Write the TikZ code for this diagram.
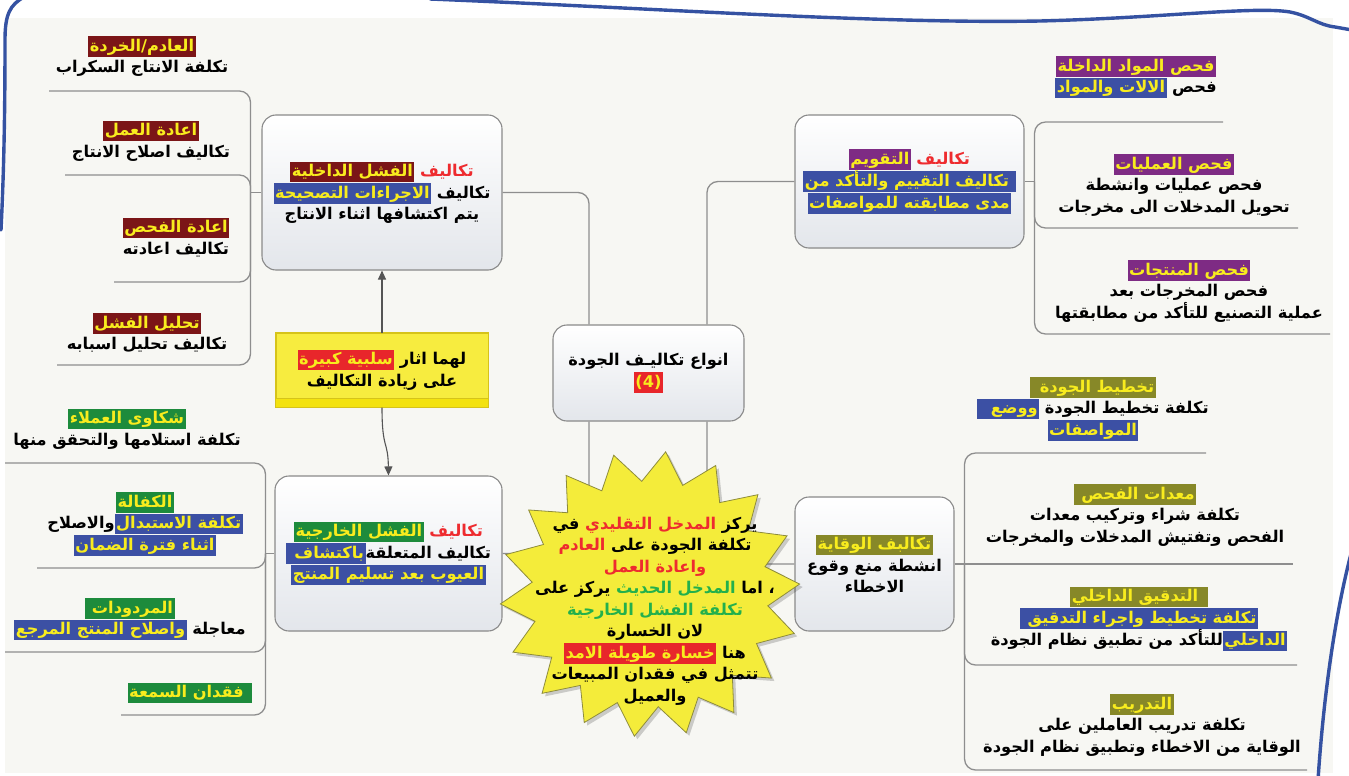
\documentclass[tikz,border=0pt]{standalone}
\usepackage{fontspec}
\usetikzlibrary{arrows.meta}
\TeXXeTstate=1
\newfontfamily\arfont[Script=Arabic]{DejaVu Sans}

\definecolor{bgc}{HTML}{F7F7F3}
\definecolor{framec}{HTML}{3552A2}
\definecolor{connc}{HTML}{8E8E8E}
\definecolor{boxline}{HTML}{8A8A8A}
\definecolor{boxbot}{HTML}{E3E6EB}
\definecolor{arrc}{HTML}{555555}
\definecolor{tred}{HTML}{EE2B2F}
\definecolor{tgreen}{HTML}{23B04C}
\definecolor{hyel}{HTML}{F8EC1E}
\definecolor{hdred}{HTML}{7B1517}
\definecolor{hblue}{HTML}{3C50A4}
\definecolor{hgreen}{HTML}{1D8B3C}
\definecolor{hpurple}{HTML}{7E2B84}
\definecolor{holive}{HTML}{878828}
\definecolor{hred}{HTML}{E8262B}
\definecolor{staryel}{HTML}{F4EC3A}
\definecolor{starline}{HTML}{8E8C3C}
\definecolor{notey}{HTML}{F7EC3F}
\definecolor{noteband}{HTML}{F3E20F}
\definecolor{noteline}{HTML}{D6C31A}

% Each line is assembled from left to right out of right-to-left runs,
% so that every colour change stays outside the reversed runs.
\newcommand\CR[2]{\hbox{\begingroup\color{#1}#2\endgroup}}
\newcommand\HL[2]{\hbox{\begingroup\setlength\fboxsep{0pt}\colorbox{#1}{\rule[-5.5pt]{0pt}{20.5pt}\kern1.5pt\begingroup\color{hyel}#2\endgroup\kern1.5pt}\endgroup}}

\begin{document}
\begin{tikzpicture}[x=1pt,y=-1pt,
  txt/.style={font=\arfont\bfseries\fontsize{16.2}{21.5}\selectfont, align=center, inner sep=0pt, text=black},
  box/.style={txt, draw=boxline, line width=1.1pt, rounded corners=14pt, top color=white, bottom color=boxbot},
  conn/.style={draw=connc, line width=1.3pt, rounded corners=11pt},
  arr/.style={draw=arrc, line width=1.1pt, -{Triangle[length=9pt,width=8pt]}},
  starst/.style={fill=staryel, draw=starline, line width=.8pt}]
\useasboundingbox (0,0) rectangle (1349,776);

% page and sheet
\fill[white] (0,0) rectangle (1349,776);
\fill[bgc] (5,18) rectangle (1333,773);

% hand drawn blue frame
\draw[framec, line width=3.4pt, line cap=round] (24,-3) .. controls (10,5) and (5,14) .. (5,40) .. controls (5,110) and (4,170) .. (1,230);
\draw[framec, line width=3.4pt, line cap=round] (430,-1) .. controls (650,8) and (880,24) .. (1040,21) .. controls (1160,18) and (1255,6) .. (1290,12) .. controls (1310,16) and (1318,25) .. (1335,27) -- (1352,30);
\draw[framec, line width=3.4pt, line cap=round] (1352,550) .. controls (1336,610) and (1324,690) .. (1318,780);

% main boxes
\node[box, minimum width=191pt, minimum height=96pt] (cb) at (648.5,373)
  {\beginR انواع تكاليـف الجودة\endR\\ \HL{hred}{(4)}};
\node[box, minimum width=240pt, minimum height=155pt] (ib) at (382,192.5)
  {\HL{hdred}{\beginR الفشل الداخلية\endR} \CR{tred}{\beginR تكاليف\endR}\\
   \HL{hblue}{\beginR الاجراءات التصحيحة\endR} \beginR تكاليف\endR\\
   \beginR يتم اكتشافها اثناء الانتاج\endR};
\node[box, minimum width=227pt, minimum height=155pt] (eb) at (388.5,553.5)
  {\HL{hgreen}{\beginR الفشل الخارجية\endR} \CR{tred}{\beginR تكاليف\endR}\\
   \HL{hblue}{\beginR باكتشاف\kern7pt\endR}\beginR تكاليف المتعلقة\endR\\
   \HL{hblue}{\beginR العيوب بعد تسليم المنتج\endR}};
\node[box, minimum width=229pt, minimum height=133pt] (ab) at (909.5,181.5)
  {\HL{hpurple}{\beginR التقويم\endR} \CR{tred}{\beginR تكاليف\endR}\\
   \HL{hblue}{\beginR\kern5pt تكاليف التقييم والتأكد من\endR}\\
   \HL{hblue}{\beginR مدى مطابقته  للمواصفات\endR}};
\node[box, minimum width=159pt, minimum height=134pt] (pb) at (874.5,564)
  {\HL{holive}{\beginR تكالبف الوقاية\endR}\\
   \beginR انشطة منع وقوع\endR\\
   \beginR الاخطاء\endR};

% branches of the internal failure costs
\node[txt] (i1) at (142,56.5) {\HL{hdred}{\beginR العادم/الخردة\endR}\\ \beginR تكلفة الانتاج السكراب\endR};
\node[txt] (i2) at (151,141) {\HL{hdred}{\beginR اعادة العمل\endR}\\ \beginR تكاليف اصلاح الانتاج\endR};
\node[txt] (i3) at (176,237.5) {\HL{hdred}{\beginR اعادة الفحص\endR}\\ \beginR تكاليف اعادته\endR};
\node[txt] (i4) at (147,333) {\HL{hdred}{\beginR تحليل الفشل\endR}\\ \beginR تكاليف تحليل اسبابه\endR};
\coordinate (i1u) at (49,91);
\coordinate (i2u) at (65,175);
\coordinate (i3u) at (114,282);
\coordinate (i4u) at (57,365);
\draw[conn] (ib.west) -- ([xshift=-11pt]ib.west);
\foreach \c in {i1u,i2u,i3u,i4u} \draw[conn] ([xshift=-11pt]ib.west) |- (\c);

% branches of the external failure costs
\node[txt] (e1) at (127,429) {\HL{hgreen}{\beginR شكاوى العملاء\endR}\\ \beginR تكلفة استلامها والتحقق منها\endR};
\node[txt] (e2) at (145,524) {\HL{hgreen}{\beginR الكفالة\endR}\\
   \beginR والاصلاح\endR\HL{hblue}{\beginR تكلفة الاستبدال\endR}\\
   \HL{hblue}{\beginR اثناء فترة الضمان\endR}};
\node[txt] (e3) at (130,619) {\HL{hgreen}{\beginR المردودات\kern5pt\endR}\\
   \HL{hblue}{\beginR واصلاح المنتج المرجع\endR} \beginR معاجلة\endR};
\node[txt] (e4) at (190,693) {\HL{hgreen}{\beginR\kern7pt فقدان السمعة\endR}};
\coordinate (e1u) at (5,463);
\coordinate (e2u) at (37,568);
\coordinate (e3u) at (5,652);
\coordinate (e4u) at (121,715);
\draw[conn] (eb.west) -- ([xshift=-9pt]eb.west);
\foreach \c in {e1u,e2u,e3u,e4u} \draw[conn] ([xshift=-9pt]eb.west) |- (\c);

% branches of the appraisal costs
\node[txt] (a1) at (1136,77) {\HL{hpurple}{\beginR فحص المواد الداخلة\endR}\\
   \HL{hblue}{\beginR الالات والمواد\endR} \beginR فحص\endR};
\node[txt] (a2) at (1174,185) {\HL{hpurple}{\beginR فحص العمليات\endR}\\
   \beginR فحص عمليات وانشطة\endR\\
   \beginR تحويل المدخلات الى مخرجات\endR};
\node[txt] (a3) at (1189,291) {\HL{hpurple}{\beginR فحص المنتجات\endR}\\
   \beginR فحص المخرجات بعد\endR\\
   \beginR عملية التصنيع للتأكد من مطابقتها\endR};
\coordinate (a1u) at (1223,122);
\coordinate (a2u) at (1298,228);
\coordinate (a3u) at (1330,334);
\draw[conn] (ab.east) -- ([xshift=10pt]ab.east);
\foreach \c in {a1u,a2u,a3u} \draw[conn] ([xshift=10pt]ab.east) |- (\c);

% branches of the prevention costs
\node[txt] (p1) at (1093,409) {\HL{holive}{\beginR تخطيط الجودة\kern8pt\endR}\\
   \HL{hblue}{\beginR ووضع\kern12pt\endR} \beginR تكلفة تخطيط الجودة\endR\\
   \HL{hblue}{\beginR المواصفات\endR}};
\node[txt] (p2) at (1135,515) {\HL{holive}{\beginR معدات الفحص\kern6pt\endR}\\
   \beginR تكلفة شراء وتركيب معدات\endR\\
   \beginR الفحص وتفتيش المدخلات والمخرجات\endR};
\node[txt] (p3) at (1139,619) {\HL{holive}{\beginR\kern8pt التدقيق الداخلي\endR}\\
   \HL{hblue}{\beginR تكلفة تخطيط واجراء التدقيق\kern6pt\endR}\\
   \beginR للتأكد من تطبيق نظام الجودة\endR\HL{hblue}{\beginR الداخلي\endR}};
\node[txt] (p4) at (1142,725) {\HL{holive}{\beginR التدريب\endR}\\
   \beginR تكلفة تدريب العاملين على\endR\\
   \beginR الوقاية من الاخطاء وتطبيق نظام الجودة\endR};
\coordinate (p1u) at (1206,453);
\coordinate (p2u) at (1293,564);
\coordinate (p3u) at (1297,665);
\coordinate (p4u) at (1307,770);
\draw[conn] (pb.east) -- (p2u);
\foreach \c in {p1u,p3u,p4u} \draw[conn] ([xshift=10pt]pb.east) |- (\c);

% links from the central topic
\draw[conn] ([xshift=-59.5pt]cb.north) |- (ib.east);
\draw[conn] ([xshift=58.5pt]cb.north) |- (ab.west);
\draw[conn] ([xshift=-59.5pt]cb.south) |- (eb.east);
\draw[conn] ([xshift=58.5pt]cb.south) |- (pb.west);

% yellow note with its two arrows
\node[txt, fill=notey, draw=noteline, line width=1pt, minimum width=212pt, minimum height=74pt] (note) at (382,370)
  {\HL{hred}{\beginR سلبية كبيرة\endR} \beginR لهما اثار\endR\\ \beginR على زيادة التكاليف\endR};
\fill[noteband] ([xshift=.5pt,yshift=.5pt]note.south west) rectangle ([xshift=-.5pt,yshift=9pt]note.south east);
\draw[noteline, line width=.8pt] ([yshift=9pt]note.south west) -- ([yshift=9pt]note.south east);
\draw[noteline, line width=1pt] (note.south west) rectangle (note.north east);
\draw[arr] (note.north) -- (ib.south);
\draw[arr] (note.south) .. controls (382,450) and (388,440) .. (eb.north);

% starburst
\draw[starst, preaction={fill=black, opacity=.18, transform canvas={shift={(3pt,-3pt)}}}]
  ({650+150*cos(16)},{594+143*sin(16)})
  \foreach \k in {1,...,35} { -- ({650+150*(1-0.21*mod(\k,2))*cos(16+10*\k)},{594+143*(1-0.21*mod(\k,2))*sin(16+10*\k)}) } -- cycle;
\node[txt] (st) at (655,611)
  {\beginR في\endR{} \CR{tred}{\beginR المدخل التقليدي\endR} \beginR يركز\endR\\
   \CR{tred}{\beginR العادم\endR} \beginR تكلفة الجودة على\endR\\
   \CR{tred}{\beginR واعادة العمل\endR}\\
   \beginR يركز على\endR{} \CR{tgreen}{\beginR المدخل الحديث\endR} \beginR ، اما\endR\\
   \CR{tgreen}{\beginR تكلفة  الفشل الخارجية\endR}\\
   \beginR لان الخسارة\endR\\
   \HL{hred}{\beginR خسارة طويلة الامد\endR} \beginR هنا\endR\\
   \beginR تتمثل في فقدان المبيعات\endR\\
   \beginR والعميل\endR};
\end{tikzpicture}
\end{document}
